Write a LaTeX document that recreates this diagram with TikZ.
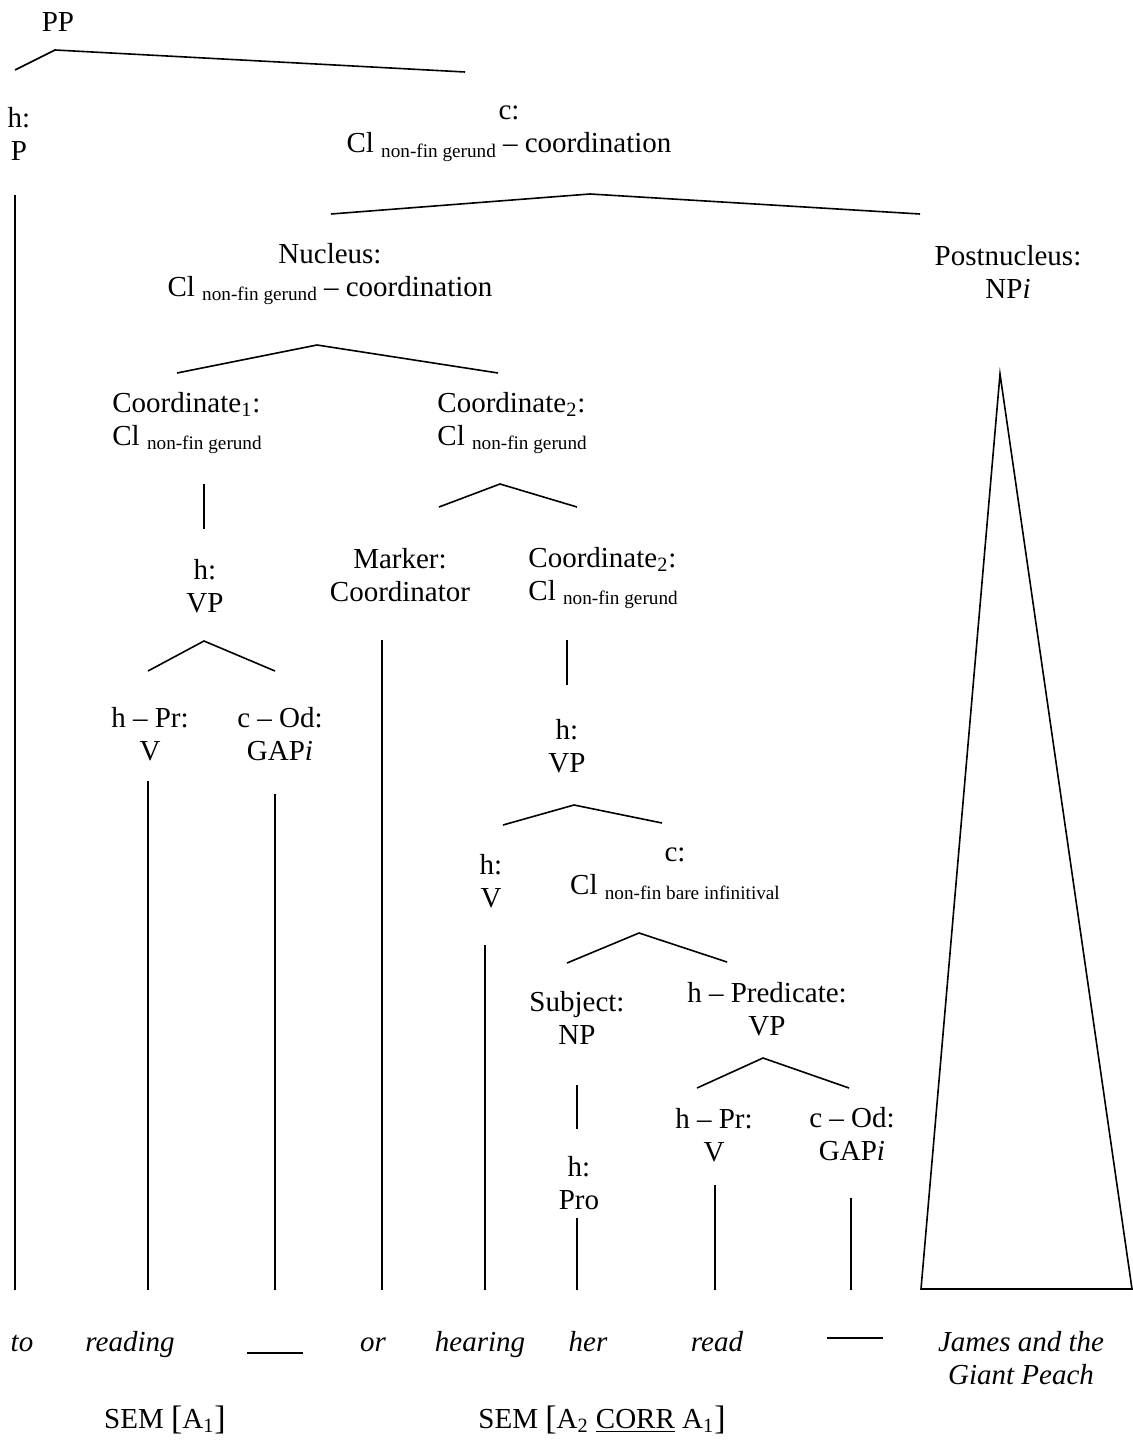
\documentclass[tikz,border=0pt]{standalone}
\usepackage{fontspec}
\setmainfont{Liberation Serif}
\newcommand{\lo}[1]{\raisebox{-2.4pt}{\fontsize{9.6}{10}\selectfont #1}}
\newcommand{\bigbr}[1]{\raisebox{-0.8pt}{\fontsize{17}{17}\selectfont #1}}
\tikzset{
  lbl/.style={align=center, inner sep=0pt, font=\fontsize{14.5}{16.5}\selectfont},
  lblw/.style={lbl, align=left, anchor=west},
  word/.style={lbl, anchor=base, font=\fontsize{14.5}{16.5}\selectfont\itshape},
  branch/.style={line width=0.8pt, line join=miter}
}
\begin{document}
\begin{tikzpicture}[x=0.5pt, y=-0.5pt]
  \useasboundingbox (0,0) rectangle (1133,1449);

  % Labels of the tree
  \node[lbl] (pp) at (58,22) {PP};
  \node[lbl] (hP) at (19,134) {h:\\P};
  \node[lbl] (cTop) at (509,134) {c:\\Cl \lo{non-fin gerund} -- coordination};
  \node[lbl] (nuc) at (330,274) {Nucleus:\\Cl \lo{non-fin gerund} -- coordination};
  \node[lbl] (post) at (1008,272) {Postnucleus:\\NP\textit{i}};
  \node[lblw] (coA) at (112,423) {Coordinate\textsubscript{1}:\\Cl \lo{non-fin gerund}};
  \node[lblw] (coB) at (437,423) {Coordinate\textsubscript{2}:\\Cl \lo{non-fin gerund}};
  \node[lbl] (hVPa) at (205,586) {h:\\VP};
  \node[lbl] (marker) at (400,575) {Marker:\\Coordinator};
  \node[lblw] (coC) at (528,578) {Coordinate\textsubscript{2}:\\Cl \lo{non-fin gerund}};
  \node[lbl] (hPrA) at (150,734) {h -- Pr:\\V};
  \node[lbl] (cOdA) at (280,734) {c -- Od:\\GAP\textit{i}};
  \node[lbl] (hVPb) at (567,746) {h:\\VP};
  \node[lbl] (hV) at (491,881) {h:\\V};
  \node[lbl] (cCl) at (675,874) {c:\\Cl \lo{non-fin bare infinitival}};
  \node[lbl] (subj) at (577,1018) {Subject:\\NP};
  \node[lbl] (pred) at (767,1009) {h -- Predicate:\\VP};
  \node[lbl] (hPro) at (579,1183) {h:\\Pro};
  \node[lbl] (hPrB) at (714,1135) {h -- Pr:\\V};
  \node[lbl] (cOdB) at (852,1134) {c -- Od:\\GAP\textit{i}};

  % Branchings
  \foreach \n/\lx/\ly/\ax/\ay/\rx/\ry in {
      tA/15/70/55/50/465/72, tB/331/214/590/194/920/214,
      tC/177/373/317/345/498/373, tD/439/507/500/484/577/507,
      tE/148/671/204/641/275/671, tF/503/825/574/805/662/823,
      tG/567/963/639/933/727/962, tH/697/1088/763/1058/849/1088} {
    \coordinate (\n L) at (\lx,\ly);
    \coordinate (\n A) at (\ax,\ay);
    \coordinate (\n R) at (\rx,\ry);
    \draw[branch] (\n L) -- (\n A) -- (\n R);
  }

  % Short unary lines
  \foreach \n/\x/\ya/\yb in {uA/204/484/529, uB/567/640/685, uC/577/1085/1129} {
    \coordinate (\n T) at (\x,\ya);
    \coordinate (\n B) at (\x,\yb);
    \draw[branch] (\n T) -- (\n B);
  }

  % Lines down to the words
  \foreach \n/\x/\y in {vP/15/195, vA/148/781, vB/275/794, vC/382/640,
      vD/485/945, vE/577/1218, vF/715/1185, vG/851/1198} {
    \coordinate (\n T) at (\x,\y);
    \coordinate (\n B) at (\x,1290);
    \draw[branch] (\n T) -- (\n B);
  }

  % Triangle over the postnucleus
  \coordinate (triA) at (1000,374);
  \coordinate (triL) at (921,1289);
  \coordinate (triR) at (1132,1289);
  \draw[branch] (triA) -- (triL) -- (triR) -- cycle;

  % Words
  \node[word] (wTo) at (22,1351) {to};
  \node[word] (wReading) at (130,1351) {reading};
  \node[inner sep=0pt] (gapA) at (275,1353) {\rule{28pt}{0.9pt}};
  \node[word] (wOr) at (373,1351) {or};
  \node[word] (wHearing) at (480,1351) {hearing};
  \node[word] (wHer) at (588,1351) {her};
  \node[word] (wRead) at (717,1351) {read};
  \node[inner sep=0pt] (gapB) at (855,1338) {\rule{28pt}{0.9pt}};
  \node[lbl, font=\fontsize{14.5}{16.5}\selectfont\itshape] (wJames) at (1021,1358) {James and the\\Giant Peach};

  % Semantics
  \node[lbl, anchor=base] (semA) at (165,1428) {SEM \bigbr{[}A\textsubscript{1}\bigbr{]}};
  \node[lbl, anchor=base] (semB) at (602,1428) {SEM \bigbr{[}A\textsubscript{2} \underline{CORR} A\textsubscript{1}\bigbr{]}};
\end{tikzpicture}
\end{document}
